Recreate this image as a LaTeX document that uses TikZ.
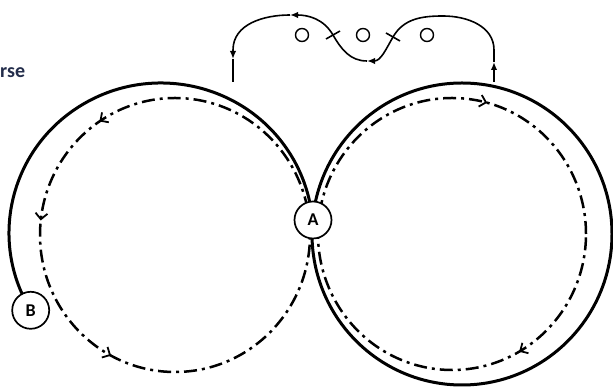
\documentclass[tikz,border=0pt]{standalone}
\usepackage{fontspec}
\setmainfont{Carlito}
\usetikzlibrary{arrows.meta,decorations.markings}
\definecolor{txtnavy}{RGB}{35,45,75}
\begin{document}
\begin{tikzpicture}[x=1pt,y=1pt,
  track/.style={line width=3pt},
  route/.style={line width=2.5pt, dash pattern=on 13pt off 5pt on 3pt off 5pt},
  flow/.style={line width=1.6pt},
  tip/.style={-{Latex[length=8pt,width=6.5pt]}},
  marker/.style={circle, draw, line width=1.7pt, fill=white, minimum size=37pt, inner sep=0pt, font=\bfseries\fontsize{18}{18}\selectfont},
  ring/.style={circle, draw, line width=1.4pt, minimum size=13pt, inner sep=0pt}
]
\useasboundingbox (0,0) rectangle (613,387);

% label fragment
\node[anchor=base west, inner sep=0pt, font=\bfseries\fontsize{20}{20}\selectfont, text=txtnavy] (lbl) at (0,309) {rse};

% dash-dot routes
\draw[route, postaction={decorate}, decoration={markings,
  mark=at position 0.344 with {\arrow{Straight Barb[length=6pt,width=12pt,line width=1.8pt]}},
  mark=at position 0.483 with {\arrow{Straight Barb[length=6pt,width=12pt,line width=1.8pt]}},
  mark=at position 0.672 with {\arrow{Straight Barb[length=6pt,width=12pt,line width=1.8pt]}}}]
  (175,152) ellipse [x radius=135, y radius=137];
\draw[route, postaction={decorate}, decoration={markings,
  mark=at position 0.208 with {\arrowreversed{Straight Barb[length=6pt,width=12pt,line width=1.8pt]}},
  mark=at position 0.833 with {\arrowreversed{Straight Barb[length=6pt,width=12pt,line width=1.8pt]}}}]
  (452,153) ellipse [x radius=134, y radius=136];

% solid track
\draw[track] (161,154) ++(211:152 and 150) arc[start angle=211, end angle=0, x radius=152, y radius=150];
\draw[track] (462,153) ellipse [x radius=150, y radius=151];

% top flow path
\coordinate (lb) at (233,305);
\coordinate (la) at (233,328);
\coordinate (lt) at (233,337);
\coordinate (pk1) at (290,372);
\coordinate (x1) at (333,352);
\coordinate (bot) at (367,326);
\coordinate (x2) at (393,350);
\coordinate (pk2) at (443,371);
\coordinate (rt) at (494,337);
\coordinate (ra) at (494,325);
\coordinate (rb) at (494,305);

\draw[flow, tip] (rb) -- (ra);
\draw[flow, tip] (ra) -- (rt) to[out=90,in=0] (pk2) to[out=180,in=60] (x2) to[out=240,in=0] (bot);
\draw[flow, tip] (bot) to[out=180,in=300] (x1) to[out=120,in=0] (pk1);
\draw[flow, tip] (pk1) to[out=180,in=90] (lt) -- (la);
\draw[flow] (la) -- (lb);
\draw[flow] (x1) ++(-7,-4) -- ++(14,8);
\draw[flow] (x2) ++(-7,4) -- ++(14,-8);

\node[ring] (o1) at (302,352) {};
\node[ring] (o2) at (363,352) {};
\node[ring] (o3) at (427,352) {};

% markers
\node[marker] (A) at (313,167) {A};
\node[marker] (B) at (30.7,76.7) {B};
\end{tikzpicture}
\end{document}
